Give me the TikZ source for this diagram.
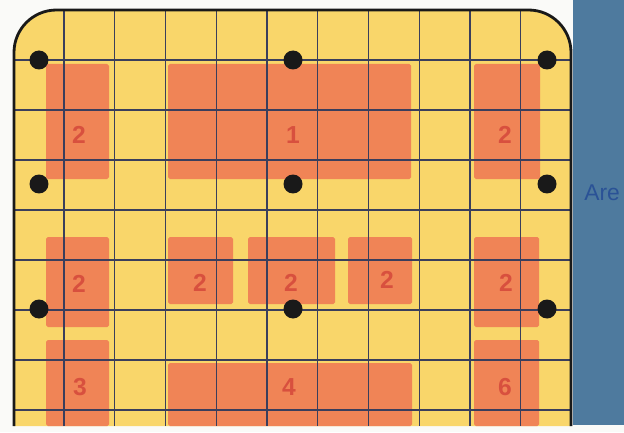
\documentclass[tikz,border=0pt]{standalone}
\usepackage{fontspec}
\setsansfont{Liberation Sans}
\usetikzlibrary{positioning}

\definecolor{cardyellow}{RGB}{249,214,106}
\definecolor{zoneorange}{RGB}{240,132,86}
\definecolor{numred}{RGB}{216,80,62}
\definecolor{gridnavy}{RGB}{58,62,92}
\definecolor{coverblue}{RGB}{78,122,158}
\definecolor{areablue}{RGB}{42,82,150}
\definecolor{paper}{RGB}{250,250,248}

\begin{document}
\begin{tikzpicture}[
  x=0.02cm, y=-0.02cm,
  font=\sffamily,
  card/.style={draw=black!90, line width=1.6pt, rounded corners=0.85cm},
  zone/.style={fill=zoneorange, rounded corners=1pt},
  num/.style={font=\sffamily\bfseries\fontsize{14}{16}\selectfont, text=numred, inner sep=0pt},
  gridline/.style={draw=gridnavy, line width=0.7pt},
  hole/.style={circle, fill=black!90, minimum size=0.38cm, inner sep=0pt},
  lbl/.style={font=\sffamily\fontsize{13}{15}\selectfont, text=areablue, inner sep=0pt}
]
  \useasboundingbox (0,0) rectangle (624,432);
  \fill[paper] (0,0) rectangle (624,432);

  % blue cover on the right
  \fill[coverblue] (573,0) rectangle (624,425);
  \node[lbl, anchor=base west] (are) at (584,200) {Are};

  % the card
  \fill[cardyellow, rounded corners=0.85cm] (14,426) -- (14,10) -- (571,10) [sharp corners] -- (571,426) -- cycle;

  % orange zones, top row
  \fill[zone] (46,64) rectangle (109,179);
  \fill[zone] (168,64) rectangle (411,179);
  \fill[zone] (474,64) rectangle (540,179);
  % middle row
  \fill[zone] (46,237) rectangle (109,327);
  \fill[zone] (168,237) rectangle (233,304);
  \fill[zone] (248,237) rectangle (335,304);
  \fill[zone] (348,237) rectangle (412,304);
  \fill[zone] (474,237) rectangle (539,327);
  % bottom row
  \fill[zone] (46,340) rectangle (109,426);
  \fill[zone] (168,363) rectangle (412,426);
  \fill[zone] (474,340) rectangle (539,426);

  % grid
  \begin{scope}
    \clip (14,10) rectangle (571,426);
    \foreach \gx in {0,...,9}
      \draw[gridline] ({64+50.75*\gx},10) -- ({64+50.75*\gx},426);
    \foreach \gy in {0,...,7}
      \draw[gridline] (14,{60+50*\gy}) -- (571,{60+50*\gy});
  \end{scope}
  \draw[card] (14,426) -- (14,10) -- (571,10) -- (571,426);

  % zone numbers
  \node[num] (n2a) at (79,135) {2};
  \node[num] (n1) at (293,135) {1};
  \node[num] (n2b) at (505,135) {2};
  \node[num] (n2c) at (79,284) {2};
  \node[num] (n2d) at (200,283) {2};
  \node[num] (n2e) at (291,283) {2};
  \node[num] (n2f) at (387,280) {2};
  \node[num] (n2g) at (506,283) {2};
  \node[num] (n3) at (80,387) {3};
  \node[num] (n4) at (289,387) {4};
  \node[num] (n6) at (505,387) {6};

  % holes
  \node[hole] (h11) at (39,60) {};
  \node[hole] (h12) at (293,60) {};
  \node[hole] (h13) at (547,60) {};
  \node[hole] (h21) at (39,184) {};
  \node[hole] (h22) at (293,184) {};
  \node[hole] (h23) at (547,184) {};
  \node[hole] (h31) at (39,309) {};
  \node[hole] (h32) at (293,309) {};
  \node[hole] (h33) at (547,309) {};
\end{tikzpicture}
\end{document}
